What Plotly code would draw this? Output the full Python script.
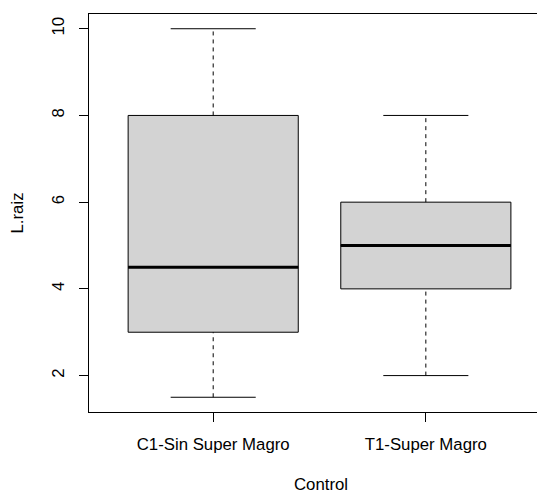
import plotly.graph_objects as go

categories = ["C1-Sin Super Magro", "T1-Super Magro"]
positions = [1, 2]
lower_whisker = [1.5, 2.0]
q1 = [3.0, 4.0]
median = [4.5, 5.0]
q3 = [8.0, 6.0]
upper_whisker = [10.0, 8.0]
y_ticks = [2, 4, 6, 8, 10]

BOX_W = 0.8
CAP_W = 0.4
FONT = "Liberation Sans, Arial, sans-serif"

fig = go.Figure()

for i, p in enumerate(positions):
    # whiskers (dashed)
    fig.add_trace(go.Scatter(x=[p, p], y=[q3[i], upper_whisker[i]], mode="lines",
                             line=dict(color="black", width=1, dash="4px,4px"),
                             showlegend=False, hoverinfo="skip"))
    fig.add_trace(go.Scatter(x=[p, p], y=[lower_whisker[i], q1[i]], mode="lines",
                             line=dict(color="black", width=1, dash="4px,4px"),
                             showlegend=False, hoverinfo="skip"))
    # caps
    for v in (upper_whisker[i], lower_whisker[i]):
        fig.add_trace(go.Scatter(x=[p - CAP_W / 2, p + CAP_W / 2], y=[v, v], mode="lines",
                                 line=dict(color="black", width=1),
                                 showlegend=False, hoverinfo="skip"))

fig.add_trace(go.Box(
    x=positions, q1=q1, median=median, q3=q3,
    lowerfence=q1, upperfence=q3,
    width=BOX_W, fillcolor="#D3D3D3",
    line=dict(color="black", width=1),
    whiskerwidth=0, showlegend=False, hoverinfo="skip",
))

for i, p in enumerate(positions):
    fig.add_trace(go.Scatter(x=[p - BOX_W / 2, p + BOX_W / 2], y=[median[i], median[i]],
                             mode="lines", line=dict(color="black", width=3),
                             showlegend=False, hoverinfo="skip"))

fig.update_layout(
    width=545, height=493,
    margin=dict(l=81, r=0, t=5.5, b=89.3, pad=0),
    plot_bgcolor="white", paper_bgcolor="white",
    font=dict(family=FONT, size=16.8, color="black"),
    showlegend=False,
    xaxis=dict(
        range=[0.416, 2.598], tickmode="array", tickvals=positions, ticktext=categories,
        showline=True, linecolor="black", linewidth=1, mirror=True,
        ticks="outside", ticklen=9, tickcolor="black", tickwidth=1,
        showgrid=False, zeroline=False, ticklabelstandoff=8,
        title=dict(text="Control", font=dict(size=16.8), standoff=25),
        automargin=False,
    ),
    yaxis=dict(
        range=[1.16, 10.34], tickmode="array", tickvals=y_ticks,
        showline=True, linecolor="black", linewidth=1, mirror=False,
        ticks="outside", ticklen=9, tickcolor="black", tickwidth=1,
        tickangle=-90, showgrid=False, zeroline=False, ticklabelstandoff=8,
        title=dict(text="L.raiz", font=dict(size=16.8), standoff=22),
        automargin=False,
    ),
)

fig.write_html("out.html")
